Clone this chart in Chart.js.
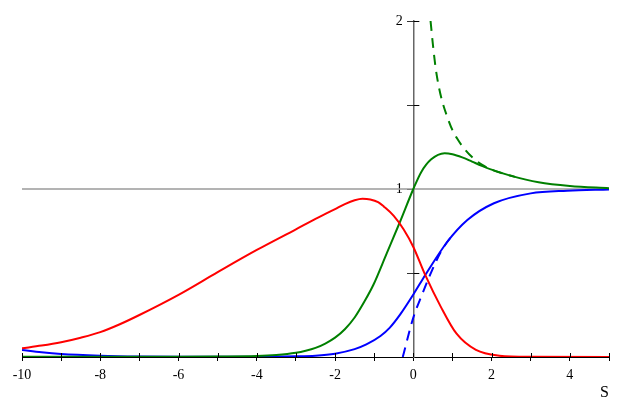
<!DOCTYPE html>
<html>
<head>
<meta charset="utf-8">
<script src="https://cdn.jsdelivr.net/npm/chart.js@4"></script>
<style>
  html, body { margin: 0; padding: 0; background: #fff; }
  #wrap { width: 620px; height: 414px; }
</style>
</head>
<body>
<div id="wrap"><canvas id="chart"></canvas></div>
<script>
// 刻度標籤
var xTickLabels = [-10, -8, -6, -4, -2, 0, 2, 4];
var yTickLabels = [1, 2];

// 紅線
var redX = [-10, -9.5, -9, -8.5, -8, -7.5, -7, -6, -5, -4, -3, -2.5, -2, -1.75, -1.5, -1.3, -1.1, -0.9, -0.75, -0.5, -0.25, 0, 0.3, 0.7, 1.1, 1.6, 2.2, 3, 5];
var redY = [0.052, 0.068, 0.088, 0.115, 0.148, 0.195, 0.25, 0.37, 0.505, 0.637, 0.76, 0.822, 0.88, 0.91, 0.933, 0.942, 0.938, 0.922, 0.895, 0.84, 0.76, 0.655, 0.49, 0.3, 0.14, 0.042, 0.008, 0.001, 0];

// 綠線
var greenX = [-10, -6, -5, -4, -3.5, -3, -2.75, -2.5, -2.25, -2, -1.75, -1.5, -1.25, -1.02, -0.68, -0.34, 0, 0.2, 0.45, 0.8, 1, 1.25, 1.5, 1.75, 2, 2.5, 3.2, 4, 5];
var greenY = [0.002, 0.002, 0.003, 0.006, 0.012, 0.025, 0.037, 0.054, 0.08, 0.115, 0.165, 0.235, 0.33, 0.43, 0.617, 0.805, 1.0, 1.1, 1.175, 1.213, 1.207, 1.188, 1.163, 1.138, 1.115, 1.078, 1.04, 1.018, 1.005];

// 綠色虛線
var greenDashX = [0.44, 0.5, 0.57, 0.65, 0.74, 0.85, 1, 1.12, 1.25, 1.5, 1.75, 2, 2.3, 2.6];
var greenDashY = [2.0, 1.86, 1.72, 1.61, 1.52, 1.44, 1.35, 1.3, 1.255, 1.19, 1.145, 1.115, 1.092, 1.072];

// 藍線
var blueX = [-10, -9.5, -9, -8, -7, -6, -5, -4, -3, -2.5, -2, -1.5, -1.2, -0.84, -0.6, -0.33, 0, 0.31, 0.87, 1.38, 2.06, 3, 3.93, 5];
var blueY = [0.042, 0.028, 0.018, 0.008, 0.003, 0.001, 0.001, 0.002, 0.004, 0.008, 0.02, 0.047, 0.075, 0.125, 0.175, 0.255, 0.372, 0.49, 0.686, 0.815, 0.915, 0.974, 0.99, 0.997];

// 藍色虛線
var blueDashX = [-0.27, 0, 0.22, 0.43, 0.69, 0.85, 1.0];
var blueDashY = [0, 0.235, 0.37, 0.49, 0.62, 0.68, 0.725];

// y = 1 參考線
var refX = [-10, 5];
var refY = [1, 1];

var serif = "'Liberation Serif', 'Times New Roman', serif";

function pts(xs, ys) {
  return xs.map(function (x, i) {
    return { x: x, y: ys[i] };
  });
}

function curve(xs, ys, color, dash) {
  return {
    data: pts(xs, ys),
    borderColor: color,
    borderWidth: 2,
    borderDash: dash || [],
    pointRadius: 0,
    fill: false,
    cubicInterpolationMode: "monotone",
  };
}

// 刻度線穿過軸線
var crossTicks = {
  id: "crossTicks",
  afterDatasetsDraw: function (chart) {
    var ctx = chart.ctx;
    var xs = chart.scales.x;
    var ys = chart.scales.y;
    var y0 = ys.getPixelForValue(0);
    var x0 = xs.getPixelForValue(0);
    ctx.save();
    ctx.strokeStyle = "#000";
    ctx.lineWidth = 1;
    ctx.beginPath();
    xs.ticks.forEach(function (t) {
      var px = Math.round(xs.getPixelForValue(t.value)) + 0.5;
      ctx.moveTo(px, y0 - 4);
      ctx.lineTo(px, y0);
    });
    ys.ticks.forEach(function (t) {
      if (t.value === 0 || t.value === 1) return;
      var py = Math.round(ys.getPixelForValue(t.value)) + 0.5;
      ctx.moveTo(x0, py);
      ctx.lineTo(x0 + 6, py);
    });
    ctx.stroke();
    ctx.restore();
  },
};

new Chart(document.getElementById("chart").getContext("2d"), {
  type: "line",
  data: {
    datasets: [
      curve(redX, redY, "#ff0000"),
      curve(greenX, greenY, "#008000"),
      curve(greenDashX, greenDashY, "#008000", [10, 7]),
      curve(blueX, blueY, "#0000ff"),
      curve(blueDashX, blueDashY, "#0000ff", [10, 7]),
      {
        data: pts(refX, refY),
        borderColor: "#9a9a9a",
        borderWidth: 1.5,
        pointRadius: 0,
        tension: 0,
      },
    ],
  },
  options: {
    responsive: true,
    maintainAspectRatio: false,
    animation: false,
    devicePixelRatio: 1,
    layout: { padding: { left: 22, right: 11, top: 21, bottom: 0 } },
    plugins: { legend: { display: false }, tooltip: { enabled: false } },
    scales: {
      x: {
        type: "linear",
        min: -10,
        max: 5,
        ticks: {
          stepSize: 1,
          autoSkip: false,
          maxRotation: 0,
          padding: 6,
          color: "#000",
          font: { family: serif, size: 14 },
          callback: function (v) {
            return xTickLabels.indexOf(v) >= 0 ? String(v) : "";
          },
        },
        grid: { drawOnChartArea: false, tickLength: 4, color: "#000" },
        border: { display: true, color: "#000", width: 1 },
        title: {
          display: true,
          text: "S",
          align: "end",
          color: "#000",
          font: { family: serif, size: 16 },
          padding: { top: 0, bottom: 12 },
        },
        afterFit: function (s) {
          s.height = 57;
        },
      },
      y: {
        type: "linear",
        min: 0,
        max: 2,
        position: { x: 0 },
        ticks: {
          stepSize: 0.5,
          color: "#000",
          font: { family: serif, size: 14 },
          // 標籤與軸線保持距離
          callback: function (v) {
            return yTickLabels.indexOf(v) >= 0 ? String(v) + "\u00a0\u00a0\u00a0" : "";
          },
        },
        grid: { drawOnChartArea: false, tickLength: 6, color: "#333" },
        border: { display: true, color: "#666", width: 1.5 },
      },
    },
  },
  plugins: [crossTicks],
});
</script>
</body>
</html>
